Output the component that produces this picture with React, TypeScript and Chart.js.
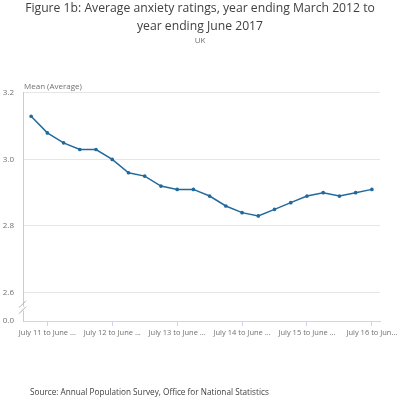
import React, { useEffect, useRef } from "react";
import { Chart, registerables } from "chart.js";

Chart.register(...registerables);

const titleLines = [
  "Figure 1b: Average anxiety ratings, year ending March 2012 to",
  "year ending June 2017",
];
const subtitleText = "UK";
const yAxisTitle = "Mean (Average)";
const sourceText = "Source: Annual Population Survey, Office for National Statistics";

const categories = [
  "Apr 11 to Mar 12",
  "July 11 to June 12",
  "Oct 11 to Sept 12",
  "Jan 12 to Dec 12",
  "Apr 12 to Mar 13",
  "July 12 to June 13",
  "Oct 12 to Sept 13",
  "Jan 13 to Dec 13",
  "Apr 13 to Mar 14",
  "July 13 to June 14",
  "Oct 13 to Sept 14",
  "Jan 14 to Dec 14",
  "Apr 14 to Mar 15",
  "July 14 to June 15",
  "Oct 14 to Sept 15",
  "Jan 15 to Dec 15",
  "Apr 15 to Mar 16",
  "July 15 to June 16",
  "Oct 15 to Sept 16",
  "Jan 16 to Dec 16",
  "Apr 16 to Mar 17",
  "July 16 to June 17",
];

const anxietyMean = [
  3.13, 3.08, 3.05, 3.03, 3.03, 3.0, 2.96, 2.95, 2.92, 2.91, 2.91, 2.89,
  2.86, 2.84, 2.83, 2.85, 2.87, 2.89, 2.9, 2.89, 2.9, 2.91,
];

const yTickValues = [2.6, 2.8, 3.0, 3.2];
const yBreakMin = 2.514; // axis shows a break down to 0.0
const yMax = 3.2;
const yZeroLabel = "0.0";

const FONT = "'Open Sans', sans-serif";
const LINE_COLOR = "#206a9e";

const extrasPlugin = {
  id: "extras",
  afterDraw(chart: any) {
    const { ctx, chartArea } = chart;
    const yScale = chart.scales.y;
    ctx.save();
    // axis title
    ctx.font = `8px ${FONT}`;
    ctx.fillStyle = "#707070";
    ctx.textAlign = "left";
    ctx.textBaseline = "bottom";
    ctx.fillText(yAxisTitle, chartArea.left + 1, chartArea.top - 2);

    // axis break marks
    const yb = (yScale.getPixelForValue(2.6) + chartArea.bottom) / 2 + 2;
    const x = chartArea.left;
    ctx.fillStyle = "#ffffff";
    ctx.fillRect(x - 2, yb - 2, 4, 4);
    ctx.strokeStyle = "#b0b0b0";
    ctx.lineWidth = 1;
    ctx.beginPath();
    ctx.moveTo(x - 4, yb - 1);
    ctx.lineTo(x + 3, yb - 8);
    ctx.moveTo(x - 4, yb + 5);
    ctx.lineTo(x + 3, yb - 2);
    ctx.stroke();

    // source
    ctx.font = `8.2px ${FONT}`;
    ctx.fillStyle = "#414042";
    ctx.textAlign = "left";
    ctx.textBaseline = "middle";
    ctx.fillText(sourceText, 30, chart.height - 6);
    ctx.restore();
  },
};

export default function App() {
  const ref = useRef<HTMLCanvasElement>(null);

  useEffect(() => {
    document.body.style.margin = "0";
    const chart = new Chart(ref.current as HTMLCanvasElement, {
      type: "line",
      data: {
        labels: categories,
        datasets: [
          {
            label: "Mean (Average)",
            data: anxietyMean,
            borderColor: LINE_COLOR,
            backgroundColor: LINE_COLOR,
            borderWidth: 1.5,
            pointRadius: 1.1,
            pointHoverRadius: 1.5,
            tension: 0,
            yAxisID: "y",
          },
        ],
      },
      options: {
        responsive: false,
        animation: false,
        layout: { padding: { top: 0, left: 0, right: 0, bottom: 58 } },
        plugins: {
          legend: { display: false },
          tooltip: { enabled: false },
          title: {
            display: true,
            text: titleLines,
            color: "#414042",
            font: { family: FONT, size: 12.2, weight: "normal", lineHeight: 1.475 },
            padding: { top: 0, bottom: 0 },
          },
          subtitle: {
            display: true,
            text: subtitleText,
            color: "#707070",
            font: { family: FONT, size: 8, weight: "normal", lineHeight: 1.2 },
            padding: { top: 0, bottom: 47.4 },
          },
        },
        scales: {
          x: {
            offset: true,
            border: { display: true, color: "#ccd6eb", width: 1 },
            grid: {
              offset: false,
              drawOnChartArea: false,
              drawTicks: true,
              tickLength: 5,
              color: "#ccd6eb",
            },
            ticks: {
              autoSkip: false,
              maxRotation: 0,
              minRotation: 0,
              padding: 2,
              color: "#707070",
              font: { family: FONT, size: 7.5 },
              callback: (_v: any, i: number) => {
                const full = categories[i];
                if (!full.startsWith("July")) return null;
                return i === categories.length - 1
                  ? full.slice(0, 14) + "..."
                  : full.slice(0, 16) + "...";
              },
            },
            afterFit: (s: any) => {
              s.height = 20;
            },
          },
          y: {
            position: "left",
            min: yBreakMin,
            max: yMax,
            afterBuildTicks: (s: any) => {
              s.ticks = [{ value: yBreakMin }, ...yTickValues.map((v) => ({ value: v }))];
            },
            border: { display: true, color: "#cccccc", width: 1 },
            grid: {
              drawTicks: false,
              color: (c: any) =>
                c.tick && c.tick.value === yBreakMin ? "rgba(0,0,0,0)" : "#e6e6e6",
            },
            ticks: {
              padding: 9,
              color: "#707070",
              font: { family: FONT, size: 8 },
              callback: (v: any) =>
                v === yBreakMin ? yZeroLabel : Number(v).toFixed(1),
            },
            afterFit: (s: any) => {
              s.width = 23;
            },
          },
          yRightGap: {
            position: "right",
            display: true,
            min: yBreakMin,
            max: yMax,
            border: { display: false },
            grid: { display: false, drawTicks: false },
            ticks: { display: false },
            afterFit: (s: any) => {
              s.width = 20;
            },
          },
        },
      },
      plugins: [extrasPlugin],
    });
    return () => chart.destroy();
  }, []);

  return (
    <div style={{ position: "relative", width: 400, height: 399 }}>
      <canvas ref={ref} width={400} height={399} />
    </div>
  );
}
